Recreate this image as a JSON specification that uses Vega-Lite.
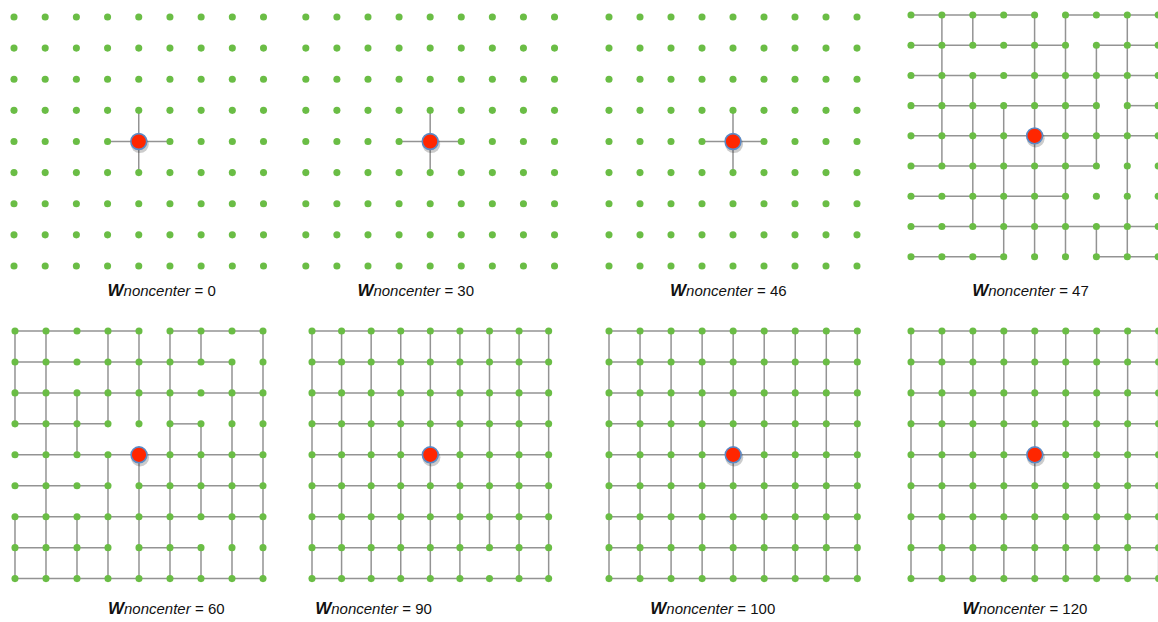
{
  "$schema": "https://vega.github.io/schema/vega-lite/v6.json",
  "background": "white",
  "padding": {"left": 10, "top": 11, "right": 0, "bottom": 0},
  "bounds": "flush",
  "spacing": 0,
  "columns": 4,
  "config": {"view": {"stroke": null}, "concat": {"spacing": 0}, "text": {"font": "Liberation Sans", "color": "#111111"}},
  "datasets": {
    "grid": [
      {"c":0,"r":0},{"c":1,"r":0},{"c":2,"r":0},{"c":3,"r":0},{"c":4,"r":0},{"c":5,"r":0},{"c":6,"r":0},{"c":7,"r":0},{"c":8,"r":0},
      {"c":0,"r":1},{"c":1,"r":1},{"c":2,"r":1},{"c":3,"r":1},{"c":4,"r":1},{"c":5,"r":1},{"c":6,"r":1},{"c":7,"r":1},{"c":8,"r":1},
      {"c":0,"r":2},{"c":1,"r":2},{"c":2,"r":2},{"c":3,"r":2},{"c":4,"r":2},{"c":5,"r":2},{"c":6,"r":2},{"c":7,"r":2},{"c":8,"r":2},
      {"c":0,"r":3},{"c":1,"r":3},{"c":2,"r":3},{"c":3,"r":3},{"c":4,"r":3},{"c":5,"r":3},{"c":6,"r":3},{"c":7,"r":3},{"c":8,"r":3},
      {"c":0,"r":4},{"c":1,"r":4},{"c":2,"r":4},{"c":3,"r":4},{"c":4,"r":4},{"c":5,"r":4},{"c":6,"r":4},{"c":7,"r":4},{"c":8,"r":4},
      {"c":0,"r":5},{"c":1,"r":5},{"c":2,"r":5},{"c":3,"r":5},{"c":4,"r":5},{"c":5,"r":5},{"c":6,"r":5},{"c":7,"r":5},{"c":8,"r":5},
      {"c":0,"r":6},{"c":1,"r":6},{"c":2,"r":6},{"c":3,"r":6},{"c":4,"r":6},{"c":5,"r":6},{"c":6,"r":6},{"c":7,"r":6},{"c":8,"r":6},
      {"c":0,"r":7},{"c":1,"r":7},{"c":2,"r":7},{"c":3,"r":7},{"c":4,"r":7},{"c":5,"r":7},{"c":6,"r":7},{"c":7,"r":7},{"c":8,"r":7},
      {"c":0,"r":8},{"c":1,"r":8},{"c":2,"r":8},{"c":3,"r":8},{"c":4,"r":8},{"c":5,"r":8},{"c":6,"r":8},{"c":7,"r":8},{"c":8,"r":8}
    ],
    "center": [{"c":4,"r":4}],
    "labels": [
      {"p":0,"lx":3.0,"ly":8.8,"value":"= 0"},
      {"p":30,"lx":1.66,"ly":8.8,"value":"= 30"},
      {"p":46,"lx":1.97,"ly":8.8,"value":"= 46"},
      {"p":47,"lx":1.98,"ly":9.14,"value":"= 47"},
      {"p":60,"lx":3.0,"ly":8.99,"value":"= 60"},
      {"p":90,"lx":0.11,"ly":8.99,"value":"= 90"},
      {"p":100,"lx":1.33,"ly":8.99,"value":"= 100"},
      {"p":120,"lx":1.66,"ly":8.99,"value":"= 120"}
    ],
    "edges": [
      {"p":0,"c1":3,"r1":4,"c2":5,"r2":4},{"p":0,"c1":4,"r1":3,"c2":4,"r2":5},
      {"p":30,"c1":3,"r1":4,"c2":5,"r2":4},{"p":30,"c1":4,"r1":3,"c2":4,"r2":5},
      {"p":46,"c1":3,"r1":4,"c2":5,"r2":4},{"p":46,"c1":4,"r1":3,"c2":4,"r2":5},

      {"p":47,"c1":0,"r1":0,"c2":4,"r2":0},{"p":47,"c1":5,"r1":0,"c2":8,"r2":0},
      {"p":47,"c1":0,"r1":1,"c2":5,"r2":1},{"p":47,"c1":6,"r1":1,"c2":8,"r2":1},
      {"p":47,"c1":0,"r1":2,"c2":8,"r2":2},
      {"p":47,"c1":0,"r1":3,"c2":6,"r2":3},{"p":47,"c1":7,"r1":3,"c2":8,"r2":3},
      {"p":47,"c1":0,"r1":4,"c2":8,"r2":4},
      {"p":47,"c1":0,"r1":5,"c2":6,"r2":5},
      {"p":47,"c1":0,"r1":6,"c2":5,"r2":6},
      {"p":47,"c1":0,"r1":7,"c2":8,"r2":7},
      {"p":47,"c1":0,"r1":8,"c2":3,"r2":8},{"p":47,"c1":6,"r1":8,"c2":8,"r2":8},
      {"p":47,"c1":1,"r1":0,"c2":1,"r2":5},
      {"p":47,"c1":2,"r1":0,"c2":2,"r2":1},{"p":47,"c1":2,"r1":2,"c2":2,"r2":7},
      {"p":47,"c1":3,"r1":3,"c2":3,"r2":8},
      {"p":47,"c1":4,"r1":0,"c2":4,"r2":8},
      {"p":47,"c1":5,"r1":0,"c2":5,"r2":8},
      {"p":47,"c1":6,"r1":1,"c2":6,"r2":5},{"p":47,"c1":6,"r1":7,"c2":6,"r2":8},
      {"p":47,"c1":7,"r1":0,"c2":7,"r2":8},

      {"p":60,"c1":0,"r1":0,"c2":4,"r2":0},{"p":60,"c1":5,"r1":0,"c2":8,"r2":0},
      {"p":60,"c1":0,"r1":1,"c2":7,"r2":1},
      {"p":60,"c1":0,"r1":2,"c2":8,"r2":2},
      {"p":60,"c1":0,"r1":3,"c2":3,"r2":3},{"p":60,"c1":5,"r1":3,"c2":6,"r2":3},
      {"p":60,"c1":0,"r1":4,"c2":8,"r2":4},
      {"p":60,"c1":0,"r1":5,"c2":3,"r2":5},{"p":60,"c1":4,"r1":5,"c2":8,"r2":5},
      {"p":60,"c1":0,"r1":6,"c2":8,"r2":6},
      {"p":60,"c1":0,"r1":7,"c2":3,"r2":7},{"p":60,"c1":4,"r1":7,"c2":6,"r2":7},
      {"p":60,"c1":0,"r1":8,"c2":8,"r2":8},
      {"p":60,"c1":0,"r1":0,"c2":0,"r2":3},{"p":60,"c1":0,"r1":6,"c2":0,"r2":8},
      {"p":60,"c1":1,"r1":0,"c2":1,"r2":8},
      {"p":60,"c1":2,"r1":2,"c2":2,"r2":4},{"p":60,"c1":2,"r1":6,"c2":2,"r2":8},
      {"p":60,"c1":3,"r1":0,"c2":3,"r2":3},{"p":60,"c1":3,"r1":4,"c2":3,"r2":8},
      {"p":60,"c1":4,"r1":0,"c2":4,"r2":3},{"p":60,"c1":4,"r1":4,"c2":4,"r2":8},
      {"p":60,"c1":5,"r1":0,"c2":5,"r2":8},
      {"p":60,"c1":6,"r1":0,"c2":6,"r2":1},{"p":60,"c1":6,"r1":3,"c2":6,"r2":6},{"p":60,"c1":6,"r1":7,"c2":6,"r2":8},
      {"p":60,"c1":7,"r1":1,"c2":7,"r2":8},
      {"p":60,"c1":8,"r1":0,"c2":8,"r2":8},

      {"p":90,"c1":0,"r1":0,"c2":8,"r2":0},{"p":90,"c1":0,"r1":1,"c2":8,"r2":1},{"p":90,"c1":0,"r1":2,"c2":8,"r2":2},
      {"p":90,"c1":0,"r1":3,"c2":8,"r2":3},{"p":90,"c1":0,"r1":4,"c2":8,"r2":4},{"p":90,"c1":0,"r1":5,"c2":8,"r2":5},
      {"p":90,"c1":0,"r1":6,"c2":8,"r2":6},{"p":90,"c1":0,"r1":7,"c2":8,"r2":7},{"p":90,"c1":0,"r1":8,"c2":8,"r2":8},
      {"p":90,"c1":0,"r1":0,"c2":0,"r2":8},{"p":90,"c1":1,"r1":0,"c2":1,"r2":8},{"p":90,"c1":2,"r1":0,"c2":2,"r2":8},
      {"p":90,"c1":3,"r1":0,"c2":3,"r2":8},{"p":90,"c1":4,"r1":0,"c2":4,"r2":8},{"p":90,"c1":5,"r1":0,"c2":5,"r2":8},
      {"p":90,"c1":6,"r1":0,"c2":6,"r2":7},{"p":90,"c1":7,"r1":0,"c2":7,"r2":8},{"p":90,"c1":8,"r1":0,"c2":8,"r2":8},

      {"p":100,"c1":0,"r1":0,"c2":8,"r2":0},{"p":100,"c1":0,"r1":1,"c2":8,"r2":1},{"p":100,"c1":0,"r1":2,"c2":8,"r2":2},
      {"p":100,"c1":0,"r1":3,"c2":8,"r2":3},{"p":100,"c1":0,"r1":4,"c2":8,"r2":4},{"p":100,"c1":0,"r1":5,"c2":8,"r2":5},
      {"p":100,"c1":0,"r1":6,"c2":8,"r2":6},{"p":100,"c1":0,"r1":7,"c2":8,"r2":7},{"p":100,"c1":0,"r1":8,"c2":8,"r2":8},
      {"p":100,"c1":0,"r1":0,"c2":0,"r2":8},{"p":100,"c1":1,"r1":0,"c2":1,"r2":8},{"p":100,"c1":2,"r1":0,"c2":2,"r2":8},
      {"p":100,"c1":3,"r1":0,"c2":3,"r2":8},{"p":100,"c1":4,"r1":0,"c2":4,"r2":8},{"p":100,"c1":5,"r1":0,"c2":5,"r2":8},
      {"p":100,"c1":6,"r1":0,"c2":6,"r2":8},{"p":100,"c1":7,"r1":0,"c2":7,"r2":8},{"p":100,"c1":8,"r1":0,"c2":8,"r2":8},

      {"p":120,"c1":0,"r1":0,"c2":8,"r2":0},{"p":120,"c1":0,"r1":1,"c2":8,"r2":1},{"p":120,"c1":0,"r1":2,"c2":8,"r2":2},
      {"p":120,"c1":0,"r1":3,"c2":8,"r2":3},{"p":120,"c1":0,"r1":4,"c2":8,"r2":4},{"p":120,"c1":0,"r1":5,"c2":8,"r2":5},
      {"p":120,"c1":0,"r1":6,"c2":8,"r2":6},{"p":120,"c1":0,"r1":7,"c2":8,"r2":7},{"p":120,"c1":0,"r1":8,"c2":8,"r2":8},
      {"p":120,"c1":0,"r1":0,"c2":0,"r2":8},{"p":120,"c1":1,"r1":0,"c2":1,"r2":8},{"p":120,"c1":2,"r1":0,"c2":2,"r2":8},
      {"p":120,"c1":3,"r1":0,"c2":3,"r2":8},{"p":120,"c1":4,"r1":0,"c2":4,"r2":8},{"p":120,"c1":5,"r1":0,"c2":5,"r2":8},
      {"p":120,"c1":6,"r1":0,"c2":6,"r2":8},{"p":120,"c1":7,"r1":0,"c2":7,"r2":8},{"p":120,"c1":8,"r1":0,"c2":8,"r2":8}
    ]
  },
  "concat": [
    {
      "width": 297.7, "height": 313.7,
      "layer": [
        {"data": {"name": "edges"}, "transform": [{"filter": "datum.p == 0"}], "mark": {"type": "rule", "color": "#939393", "strokeWidth": 1.5},
         "encoding": {"x": {"field": "c1", "type": "quantitative", "scale": {"domain": [0, 9.545], "nice": false, "zero": false}, "axis": null},
                      "y": {"field": "r1", "type": "quantitative", "scale": {"domain": [0, 10.079], "nice": false, "zero": false, "reverse": true}, "axis": null},
                      "x2": {"field": "c2"}, "y2": {"field": "r2"}}},
        {"data": {"name": "grid"}, "mark": {"type": "circle", "color": "#6abd45", "opacity": 1, "size": 50},
         "encoding": {"x": {"field": "c", "type": "quantitative"}, "y": {"field": "r", "type": "quantitative"}}},
        {"data": {"name": "center"}, "mark": {"type": "circle", "color": "#000000", "opacity": 0.2, "size": 330, "yOffset": 2.5, "xOffset": 1},
         "encoding": {"x": {"field": "c", "type": "quantitative"}, "y": {"field": "r", "type": "quantitative"}}},
        {"data": {"name": "center"}, "mark": {"type": "circle", "fill": "#ff2600", "fillOpacity": 1, "stroke": "#5a8ac6", "strokeWidth": 1.6, "size": 250},
         "encoding": {"x": {"field": "c", "type": "quantitative"}, "y": {"field": "r", "type": "quantitative"}}},
        {"data": {"name": "labels"}, "transform": [{"filter": "datum.p == 0"}], "mark": {"type": "text", "text": "W", "align": "left", "baseline": "middle", "fontWeight": "bold", "fontStyle": "italic", "fontSize": 17},
         "encoding": {"x": {"field": "lx", "type": "quantitative"}, "y": {"field": "ly", "type": "quantitative"}}},
        {"data": {"name": "labels"}, "transform": [{"filter": "datum.p == 0"}], "mark": {"type": "text", "text": "noncenter", "align": "left", "baseline": "middle", "fontStyle": "italic", "fontSize": 15, "dx": 16},
         "encoding": {"x": {"field": "lx", "type": "quantitative"}, "y": {"field": "ly", "type": "quantitative"}}},
        {"data": {"name": "labels"}, "transform": [{"filter": "datum.p == 0"}], "mark": {"type": "text", "align": "left", "baseline": "middle", "fontSize": 15, "dx": 87},
         "encoding": {"x": {"field": "lx", "type": "quantitative"}, "y": {"field": "ly", "type": "quantitative"}, "text": {"field": "value"}}}
      ]
    },
    {
      "width": 297, "height": 313.7,
      "layer": [
        {"data": {"name": "edges"}, "transform": [{"filter": "datum.p == 30"}], "mark": {"type": "rule", "color": "#939393", "strokeWidth": 1.5},
         "encoding": {"x": {"field": "c1", "type": "quantitative", "scale": {"domain": [0.199, 9.752], "nice": false, "zero": false}, "axis": null},
                      "y": {"field": "r1", "type": "quantitative", "scale": {"domain": [0, 10.079], "nice": false, "zero": false, "reverse": true}, "axis": null},
                      "x2": {"field": "c2"}, "y2": {"field": "r2"}}},
        {"data": {"name": "grid"}, "mark": {"type": "circle", "color": "#6abd45", "opacity": 1, "size": 50},
         "encoding": {"x": {"field": "c", "type": "quantitative"}, "y": {"field": "r", "type": "quantitative"}}},
        {"data": {"name": "center"}, "mark": {"type": "circle", "color": "#000000", "opacity": 0.2, "size": 330, "yOffset": 2.5, "xOffset": 1},
         "encoding": {"x": {"field": "c", "type": "quantitative"}, "y": {"field": "r", "type": "quantitative"}}},
        {"data": {"name": "center"}, "mark": {"type": "circle", "fill": "#ff2600", "fillOpacity": 1, "stroke": "#5a8ac6", "strokeWidth": 1.6, "size": 250},
         "encoding": {"x": {"field": "c", "type": "quantitative"}, "y": {"field": "r", "type": "quantitative"}}},
        {"data": {"name": "labels"}, "transform": [{"filter": "datum.p == 30"}], "mark": {"type": "text", "text": "W", "align": "left", "baseline": "middle", "fontWeight": "bold", "fontStyle": "italic", "fontSize": 17},
         "encoding": {"x": {"field": "lx", "type": "quantitative"}, "y": {"field": "ly", "type": "quantitative"}}},
        {"data": {"name": "labels"}, "transform": [{"filter": "datum.p == 30"}], "mark": {"type": "text", "text": "noncenter", "align": "left", "baseline": "middle", "fontStyle": "italic", "fontSize": 15, "dx": 16},
         "encoding": {"x": {"field": "lx", "type": "quantitative"}, "y": {"field": "ly", "type": "quantitative"}}},
        {"data": {"name": "labels"}, "transform": [{"filter": "datum.p == 30"}], "mark": {"type": "text", "align": "left", "baseline": "middle", "fontSize": 15, "dx": 87},
         "encoding": {"x": {"field": "lx", "type": "quantitative"}, "y": {"field": "ly", "type": "quantitative"}, "text": {"field": "value"}}}
      ]
    },
    {
      "width": 302, "height": 313.7,
      "layer": [
        {"data": {"name": "edges"}, "transform": [{"filter": "datum.p == 46"}], "mark": {"type": "rule", "color": "#939393", "strokeWidth": 1.5},
         "encoding": {"x": {"field": "c1", "type": "quantitative", "scale": {"domain": [0, 9.742], "nice": false, "zero": false}, "axis": null},
                      "y": {"field": "r1", "type": "quantitative", "scale": {"domain": [0, 10.079], "nice": false, "zero": false, "reverse": true}, "axis": null},
                      "x2": {"field": "c2"}, "y2": {"field": "r2"}}},
        {"data": {"name": "grid"}, "mark": {"type": "circle", "color": "#6abd45", "opacity": 1, "size": 50},
         "encoding": {"x": {"field": "c", "type": "quantitative"}, "y": {"field": "r", "type": "quantitative"}}},
        {"data": {"name": "center"}, "mark": {"type": "circle", "color": "#000000", "opacity": 0.2, "size": 330, "yOffset": 2.5, "xOffset": 1},
         "encoding": {"x": {"field": "c", "type": "quantitative"}, "y": {"field": "r", "type": "quantitative"}}},
        {"data": {"name": "center"}, "mark": {"type": "circle", "fill": "#ff2600", "fillOpacity": 1, "stroke": "#5a8ac6", "strokeWidth": 1.6, "size": 250},
         "encoding": {"x": {"field": "c", "type": "quantitative"}, "y": {"field": "r", "type": "quantitative"}}},
        {"data": {"name": "labels"}, "transform": [{"filter": "datum.p == 46"}], "mark": {"type": "text", "text": "W", "align": "left", "baseline": "middle", "fontWeight": "bold", "fontStyle": "italic", "fontSize": 17},
         "encoding": {"x": {"field": "lx", "type": "quantitative"}, "y": {"field": "ly", "type": "quantitative"}}},
        {"data": {"name": "labels"}, "transform": [{"filter": "datum.p == 46"}], "mark": {"type": "text", "text": "noncenter", "align": "left", "baseline": "middle", "fontStyle": "italic", "fontSize": 15, "dx": 16},
         "encoding": {"x": {"field": "lx", "type": "quantitative"}, "y": {"field": "ly", "type": "quantitative"}}},
        {"data": {"name": "labels"}, "transform": [{"filter": "datum.p == 46"}], "mark": {"type": "text", "align": "left", "baseline": "middle", "fontSize": 15, "dx": 87},
         "encoding": {"x": {"field": "lx", "type": "quantitative"}, "y": {"field": "ly", "type": "quantitative"}, "text": {"field": "value"}}}
      ]
    },
    {
      "width": 248, "height": 313.7,
      "layer": [
        {"data": {"name": "edges"}, "transform": [{"filter": "datum.p == 47"}], "mark": {"type": "rule", "color": "#939393", "strokeWidth": 1.5},
         "encoding": {"x": {"field": "c1", "type": "quantitative", "scale": {"domain": [0, 8.026], "nice": false, "zero": false}, "axis": null},
                      "y": {"field": "r1", "type": "quantitative", "scale": {"domain": [0.066, 10.45], "nice": false, "zero": false, "reverse": true}, "axis": null},
                      "x2": {"field": "c2"}, "y2": {"field": "r2"}}},
        {"data": {"name": "grid"}, "mark": {"type": "circle", "color": "#6abd45", "opacity": 1, "size": 50},
         "encoding": {"x": {"field": "c", "type": "quantitative"}, "y": {"field": "r", "type": "quantitative"}}},
        {"data": {"name": "center"}, "mark": {"type": "circle", "color": "#000000", "opacity": 0.2, "size": 330, "yOffset": 2.5, "xOffset": 1},
         "encoding": {"x": {"field": "c", "type": "quantitative"}, "y": {"field": "r", "type": "quantitative"}}},
        {"data": {"name": "center"}, "mark": {"type": "circle", "fill": "#ff2600", "fillOpacity": 1, "stroke": "#5a8ac6", "strokeWidth": 1.6, "size": 250},
         "encoding": {"x": {"field": "c", "type": "quantitative"}, "y": {"field": "r", "type": "quantitative"}}},
        {"data": {"name": "labels"}, "transform": [{"filter": "datum.p == 47"}], "mark": {"type": "text", "text": "W", "align": "left", "baseline": "middle", "fontWeight": "bold", "fontStyle": "italic", "fontSize": 17},
         "encoding": {"x": {"field": "lx", "type": "quantitative"}, "y": {"field": "ly", "type": "quantitative"}}},
        {"data": {"name": "labels"}, "transform": [{"filter": "datum.p == 47"}], "mark": {"type": "text", "text": "noncenter", "align": "left", "baseline": "middle", "fontStyle": "italic", "fontSize": 15, "dx": 16},
         "encoding": {"x": {"field": "lx", "type": "quantitative"}, "y": {"field": "ly", "type": "quantitative"}}},
        {"data": {"name": "labels"}, "transform": [{"filter": "datum.p == 47"}], "mark": {"type": "text", "align": "left", "baseline": "middle", "fontSize": 15, "dx": 87},
         "encoding": {"x": {"field": "lx", "type": "quantitative"}, "y": {"field": "ly", "type": "quantitative"}, "text": {"field": "value"}}}
      ]
    },
    {
      "width": 297.7, "height": 247.6,
      "layer": [
        {"data": {"name": "edges"}, "transform": [{"filter": "datum.p == 60"}], "mark": {"type": "rule", "color": "#939393", "strokeWidth": 1.5},
         "encoding": {"x": {"field": "c1", "type": "quantitative", "scale": {"domain": [-0.032, 9.571], "nice": false, "zero": false}, "axis": null},
                      "y": {"field": "r1", "type": "quantitative", "scale": {"domain": [0, 8], "nice": false, "zero": false, "reverse": true}, "axis": null},
                      "x2": {"field": "c2"}, "y2": {"field": "r2"}}},
        {"data": {"name": "grid"}, "mark": {"type": "circle", "color": "#6abd45", "opacity": 1, "size": 50},
         "encoding": {"x": {"field": "c", "type": "quantitative"}, "y": {"field": "r", "type": "quantitative"}}},
        {"data": {"name": "center"}, "mark": {"type": "circle", "color": "#000000", "opacity": 0.2, "size": 330, "yOffset": 2.5, "xOffset": 1},
         "encoding": {"x": {"field": "c", "type": "quantitative"}, "y": {"field": "r", "type": "quantitative"}}},
        {"data": {"name": "center"}, "mark": {"type": "circle", "fill": "#ff2600", "fillOpacity": 1, "stroke": "#5a8ac6", "strokeWidth": 1.6, "size": 250},
         "encoding": {"x": {"field": "c", "type": "quantitative"}, "y": {"field": "r", "type": "quantitative"}}},
        {"data": {"name": "labels"}, "transform": [{"filter": "datum.p == 60"}], "mark": {"type": "text", "text": "W", "align": "left", "baseline": "middle", "fontWeight": "bold", "fontStyle": "italic", "fontSize": 17},
         "encoding": {"x": {"field": "lx", "type": "quantitative"}, "y": {"field": "ly", "type": "quantitative"}}},
        {"data": {"name": "labels"}, "transform": [{"filter": "datum.p == 60"}], "mark": {"type": "text", "text": "noncenter", "align": "left", "baseline": "middle", "fontStyle": "italic", "fontSize": 15, "dx": 16},
         "encoding": {"x": {"field": "lx", "type": "quantitative"}, "y": {"field": "ly", "type": "quantitative"}}},
        {"data": {"name": "labels"}, "transform": [{"filter": "datum.p == 60"}], "mark": {"type": "text", "align": "left", "baseline": "middle", "fontSize": 15, "dx": 87},
         "encoding": {"x": {"field": "lx", "type": "quantitative"}, "y": {"field": "ly", "type": "quantitative"}, "text": {"field": "value"}}}
      ]
    },
    {
      "width": 297, "height": 247.6,
      "layer": [
        {"data": {"name": "edges"}, "transform": [{"filter": "datum.p == 90"}], "mark": {"type": "rule", "color": "#939393", "strokeWidth": 1.5},
         "encoding": {"x": {"field": "c1", "type": "quantitative", "scale": {"domain": [0, 10.04], "nice": false, "zero": false}, "axis": null},
                      "y": {"field": "r1", "type": "quantitative", "scale": {"domain": [0, 8], "nice": false, "zero": false, "reverse": true}, "axis": null},
                      "x2": {"field": "c2"}, "y2": {"field": "r2"}}},
        {"data": {"name": "grid"}, "mark": {"type": "circle", "color": "#6abd45", "opacity": 1, "size": 50},
         "encoding": {"x": {"field": "c", "type": "quantitative"}, "y": {"field": "r", "type": "quantitative"}}},
        {"data": {"name": "center"}, "mark": {"type": "circle", "color": "#000000", "opacity": 0.2, "size": 330, "yOffset": 2.5, "xOffset": 1},
         "encoding": {"x": {"field": "c", "type": "quantitative"}, "y": {"field": "r", "type": "quantitative"}}},
        {"data": {"name": "center"}, "mark": {"type": "circle", "fill": "#ff2600", "fillOpacity": 1, "stroke": "#5a8ac6", "strokeWidth": 1.6, "size": 250},
         "encoding": {"x": {"field": "c", "type": "quantitative"}, "y": {"field": "r", "type": "quantitative"}}},
        {"data": {"name": "labels"}, "transform": [{"filter": "datum.p == 90"}], "mark": {"type": "text", "text": "W", "align": "left", "baseline": "middle", "fontWeight": "bold", "fontStyle": "italic", "fontSize": 17},
         "encoding": {"x": {"field": "lx", "type": "quantitative"}, "y": {"field": "ly", "type": "quantitative"}}},
        {"data": {"name": "labels"}, "transform": [{"filter": "datum.p == 90"}], "mark": {"type": "text", "text": "noncenter", "align": "left", "baseline": "middle", "fontStyle": "italic", "fontSize": 15, "dx": 16},
         "encoding": {"x": {"field": "lx", "type": "quantitative"}, "y": {"field": "ly", "type": "quantitative"}}},
        {"data": {"name": "labels"}, "transform": [{"filter": "datum.p == 90"}], "mark": {"type": "text", "align": "left", "baseline": "middle", "fontSize": 15, "dx": 87},
         "encoding": {"x": {"field": "lx", "type": "quantitative"}, "y": {"field": "ly", "type": "quantitative"}, "text": {"field": "value"}}}
      ]
    },
    {
      "width": 302, "height": 247.6,
      "layer": [
        {"data": {"name": "edges"}, "transform": [{"filter": "datum.p == 100"}], "mark": {"type": "rule", "color": "#939393", "strokeWidth": 1.5},
         "encoding": {"x": {"field": "c1", "type": "quantitative", "scale": {"domain": [0, 9.729], "nice": false, "zero": false}, "axis": null},
                      "y": {"field": "r1", "type": "quantitative", "scale": {"domain": [0, 8], "nice": false, "zero": false, "reverse": true}, "axis": null},
                      "x2": {"field": "c2"}, "y2": {"field": "r2"}}},
        {"data": {"name": "grid"}, "mark": {"type": "circle", "color": "#6abd45", "opacity": 1, "size": 50},
         "encoding": {"x": {"field": "c", "type": "quantitative"}, "y": {"field": "r", "type": "quantitative"}}},
        {"data": {"name": "center"}, "mark": {"type": "circle", "color": "#000000", "opacity": 0.2, "size": 330, "yOffset": 2.5, "xOffset": 1},
         "encoding": {"x": {"field": "c", "type": "quantitative"}, "y": {"field": "r", "type": "quantitative"}}},
        {"data": {"name": "center"}, "mark": {"type": "circle", "fill": "#ff2600", "fillOpacity": 1, "stroke": "#5a8ac6", "strokeWidth": 1.6, "size": 250},
         "encoding": {"x": {"field": "c", "type": "quantitative"}, "y": {"field": "r", "type": "quantitative"}}},
        {"data": {"name": "labels"}, "transform": [{"filter": "datum.p == 100"}], "mark": {"type": "text", "text": "W", "align": "left", "baseline": "middle", "fontWeight": "bold", "fontStyle": "italic", "fontSize": 17},
         "encoding": {"x": {"field": "lx", "type": "quantitative"}, "y": {"field": "ly", "type": "quantitative"}}},
        {"data": {"name": "labels"}, "transform": [{"filter": "datum.p == 100"}], "mark": {"type": "text", "text": "noncenter", "align": "left", "baseline": "middle", "fontStyle": "italic", "fontSize": 15, "dx": 16},
         "encoding": {"x": {"field": "lx", "type": "quantitative"}, "y": {"field": "ly", "type": "quantitative"}}},
        {"data": {"name": "labels"}, "transform": [{"filter": "datum.p == 100"}], "mark": {"type": "text", "align": "left", "baseline": "middle", "fontSize": 15, "dx": 87},
         "encoding": {"x": {"field": "lx", "type": "quantitative"}, "y": {"field": "ly", "type": "quantitative"}, "text": {"field": "value"}}}
      ]
    },
    {
      "width": 248, "height": 247.6,
      "layer": [
        {"data": {"name": "edges"}, "transform": [{"filter": "datum.p == 120"}], "mark": {"type": "rule", "color": "#939393", "strokeWidth": 1.5},
         "encoding": {"x": {"field": "c1", "type": "quantitative", "scale": {"domain": [0, 8.013], "nice": false, "zero": false}, "axis": null},
                      "y": {"field": "r1", "type": "quantitative", "scale": {"domain": [0, 8], "nice": false, "zero": false, "reverse": true}, "axis": null},
                      "x2": {"field": "c2"}, "y2": {"field": "r2"}}},
        {"data": {"name": "grid"}, "mark": {"type": "circle", "color": "#6abd45", "opacity": 1, "size": 50},
         "encoding": {"x": {"field": "c", "type": "quantitative"}, "y": {"field": "r", "type": "quantitative"}}},
        {"data": {"name": "center"}, "mark": {"type": "circle", "color": "#000000", "opacity": 0.2, "size": 330, "yOffset": 2.5, "xOffset": 1},
         "encoding": {"x": {"field": "c", "type": "quantitative"}, "y": {"field": "r", "type": "quantitative"}}},
        {"data": {"name": "center"}, "mark": {"type": "circle", "fill": "#ff2600", "fillOpacity": 1, "stroke": "#5a8ac6", "strokeWidth": 1.6, "size": 250},
         "encoding": {"x": {"field": "c", "type": "quantitative"}, "y": {"field": "r", "type": "quantitative"}}},
        {"data": {"name": "labels"}, "transform": [{"filter": "datum.p == 120"}], "mark": {"type": "text", "text": "W", "align": "left", "baseline": "middle", "fontWeight": "bold", "fontStyle": "italic", "fontSize": 17},
         "encoding": {"x": {"field": "lx", "type": "quantitative"}, "y": {"field": "ly", "type": "quantitative"}}},
        {"data": {"name": "labels"}, "transform": [{"filter": "datum.p == 120"}], "mark": {"type": "text", "text": "noncenter", "align": "left", "baseline": "middle", "fontStyle": "italic", "fontSize": 15, "dx": 16},
         "encoding": {"x": {"field": "lx", "type": "quantitative"}, "y": {"field": "ly", "type": "quantitative"}}},
        {"data": {"name": "labels"}, "transform": [{"filter": "datum.p == 120"}], "mark": {"type": "text", "align": "left", "baseline": "middle", "fontSize": 15, "dx": 87},
         "encoding": {"x": {"field": "lx", "type": "quantitative"}, "y": {"field": "ly", "type": "quantitative"}, "text": {"field": "value"}}}
      ]
    }
  ]
}
